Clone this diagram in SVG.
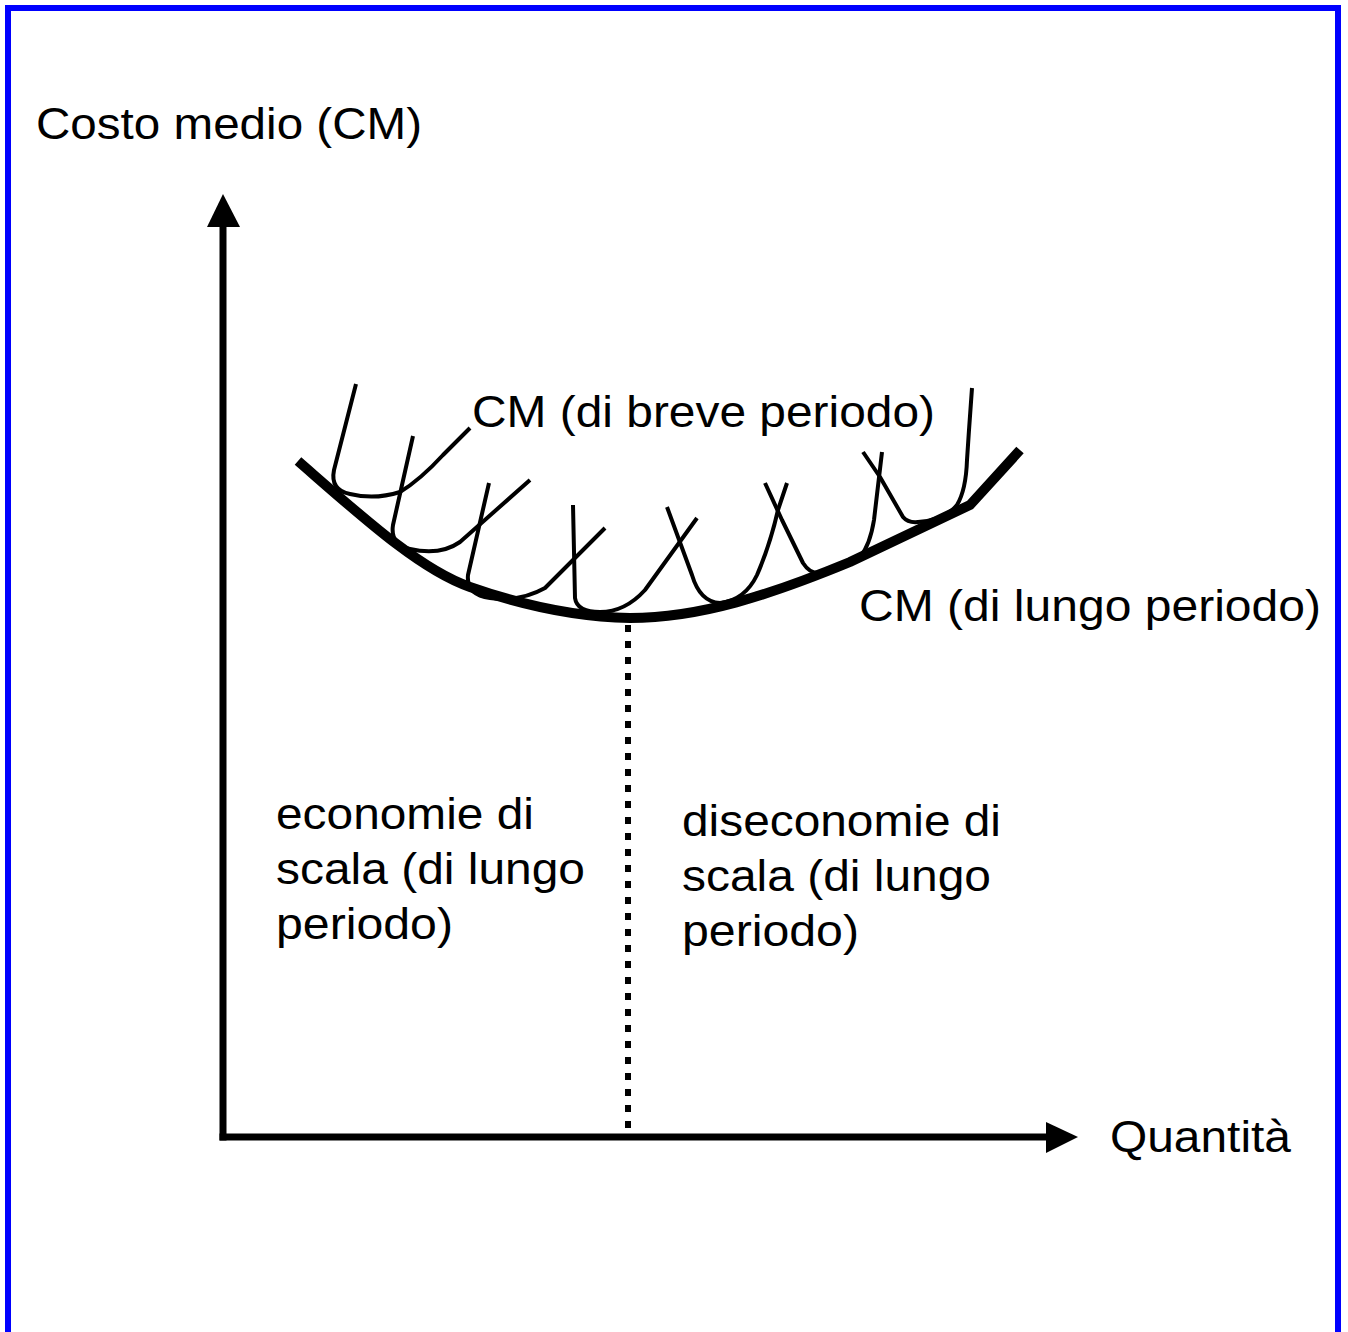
<svg xmlns="http://www.w3.org/2000/svg" width="1348" height="1332" viewBox="0 0 1348 1332">
<style>
text{font-family:"Liberation Sans",Arial,sans-serif;font-size:44px;fill:#000}
.sr{fill:none;stroke:#000;stroke-width:4;stroke-linejoin:round}
.ax{stroke:#000;stroke-width:7;fill:none}
</style>
<rect x="0" y="0" width="1348" height="1332" fill="#fff"/>
<rect x="8" y="8" width="1330" height="1340" fill="none" stroke="#0000FF" stroke-width="6"/>
<g id="connectors">
<line class="ax" x1="223" y1="226" x2="223" y2="1140.5"/>
<line class="ax" x1="219.5" y1="1137" x2="1047" y2="1137"/>
<polygon points="223,194 207,227 240,227" fill="#000"/>
<polygon points="1078,1137 1046,1122 1046,1153" fill="#000"/>
<line x1="628" y1="625" x2="628" y2="1131" stroke="#000" stroke-width="6" stroke-dasharray="7 9"/>
</g>
<g id="short-run">
<path class="sr" d="M356,384 L334,470 Q330,490 350,494 Q375,500 400,492 Q420,480 443,455 L470,428"/>
<path class="sr" d="M413,436 L393,525 Q390,545 410,549 Q440,556 460,542 L530,480"/>
<path class="sr" d="M489,483 L468,575 Q466,595 490,598 Q520,602 545,588 L605,528"/>
<path class="sr" d="M573,505 L575,598 Q577,612 600,612 Q625,612 645,590 L697,518"/>
<path class="sr" d="M667,507 L692,575 Q700,602 720,603 Q745,600 757,575 Q770,545 778,510 L787,483"/>
<path class="sr" d="M765,483 L782,520 L803,563 Q810,574 820,573 Q845,570 860,557 Q870,545 874,520 L882,452"/>
<path class="sr" d="M863,452 L880,477 L903,517 Q908,523 918,522 Q945,520 957,505 Q966,490 967,460 L969,430 L972,388"/>
</g>
<g id="long-run">
<path d="M298,461 C360,515 420,570 470,587 C530,608 580,617 630,618 C700,618 770,595 850,562 L970,505 L1020,450" fill="none" stroke="#000" stroke-width="10"/>
</g>
<g id="labels">
<text x="36" y="139" textLength="386" lengthAdjust="spacingAndGlyphs">Costo medio (CM)</text>
<text x="472" y="427" textLength="463" lengthAdjust="spacingAndGlyphs">CM (di breve periodo)</text>
<text x="859" y="621" textLength="462" lengthAdjust="spacingAndGlyphs">CM (di lungo periodo)</text>
<text x="1110" y="1152" textLength="181" lengthAdjust="spacingAndGlyphs">Quantità</text>
<text x="276" y="829" textLength="258" lengthAdjust="spacingAndGlyphs">economie di</text>
<text x="276" y="884" textLength="309" lengthAdjust="spacingAndGlyphs">scala (di lungo</text>
<text x="276" y="939" textLength="177" lengthAdjust="spacingAndGlyphs">periodo)</text>
<text x="682" y="836" textLength="319" lengthAdjust="spacingAndGlyphs">diseconomie di</text>
<text x="682" y="891" textLength="309" lengthAdjust="spacingAndGlyphs">scala (di lungo</text>
<text x="682" y="946" textLength="177" lengthAdjust="spacingAndGlyphs">periodo)</text>
</g>
</svg>
